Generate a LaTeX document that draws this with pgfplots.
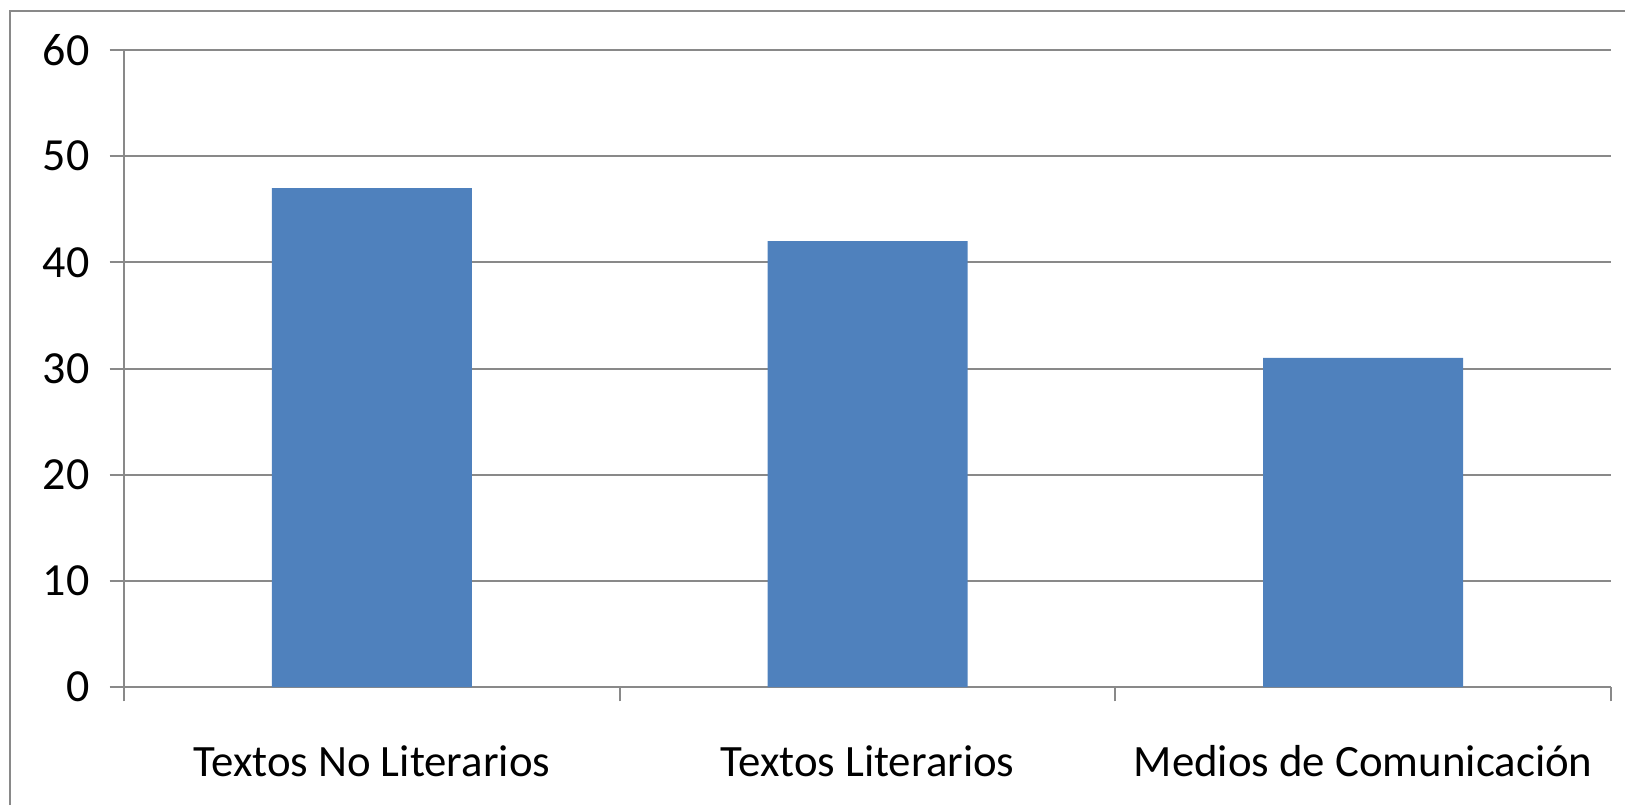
\documentclass[border=0pt]{standalone}
\usepackage{fontspec}
\setmainfont{Carlito}
\usepackage{pgfplots}
\pgfplotsset{compat=1.18}
\definecolor{barblue}{HTML}{4F81BD}
\definecolor{linegray}{HTML}{898989}
\begin{document}
\begin{tikzpicture}
% picture area: 1625x805 px at 0.25pt per px
\path[use as bounding box] (0,0) rectangle (406.25pt,201.25pt);
\draw[linegray, line width=0.5pt] (2.5pt,0) -- (2.5pt,198.5pt) -- (406.25pt,198.5pt);
\begin{axis}[
    scale only axis,
    anchor=south west,
    at={(31pt,29.5pt)},
    width=371.75pt,
    height=159.25pt,
    xmin=0.5, xmax=3.5,
    ymin=0, ymax=60,
    ytick={0,10,...,60},
    xtick={0.5,1.5,2.5,3.5},
    x tick label as interval,
    xticklabels={Textos No Literarios,Textos Literarios,Medios de Comunicación},
    axis x line=bottom,
    axis y line=left,
    axis line style={linegray, line width=0.5pt, -},
    tick align=outside,
    major tick length=3.6pt,
    tick style={linegray, line width=0.5pt},
    ymajorgrids,
    grid style={linegray, line width=0.5pt},
    /pgf/number format/assume math mode=true,
    yticklabel style={xshift=-1.5pt, font=\fontsize{11.5}{13}\selectfont},
    xticklabel style={yshift=-7.5pt, font=\fontsize{11.2}{13}\selectfont},
    clip=false,
]
\addplot[ybar, bar width=50pt, fill=barblue, draw=none]
    coordinates {(1,47) (2,42) (3,31)};
\end{axis}
\end{tikzpicture}
\end{document}
